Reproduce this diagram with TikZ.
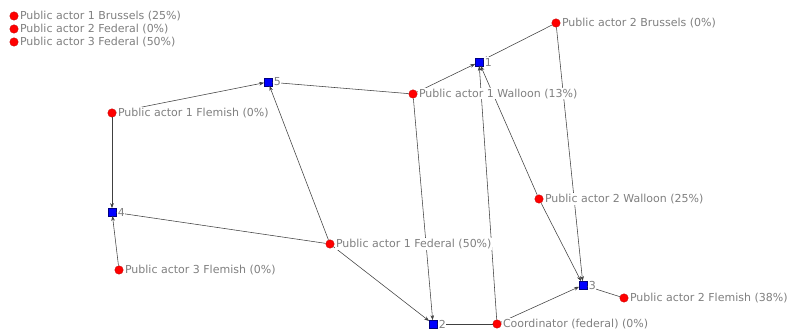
\documentclass[tikz,border=0pt]{standalone}
\usepackage{fontspec}
\setmainfont{DejaVu Sans}
\usetikzlibrary{positioning,arrows.meta}
\begin{document}
\begin{tikzpicture}[x=1pt,y=-1pt,
    actor/.style={circle,fill=red,draw=red!75!black,line width=0.3pt,inner sep=0pt,minimum size=8.5pt},
    event/.style={rectangle,fill=blue,draw=blue!50!black,line width=0.3pt,inner sep=0pt,minimum size=8pt},
    tag/.style={fill=white,inner sep=0.6pt,text=black!50,font=\fontsize{11}{13}\selectfont,anchor=west,xshift=0.8pt},
    tie/.style={draw=black!75,line width=0.55pt,-{Stealth[length=5pt,width=3.6pt]},shorten >=-0.3pt}]
    \useasboundingbox [fill=white] (0,0) rectangle (790,336);
    % actors and events
    \node [actor] (a1bru) at (14,16) {};
    \node [actor] (a2fed) at (14,29) {};
    \node [actor] (a3fed) at (14,42) {};
    \node [actor] (a2bru) at (556,23) {};
    \node [actor] (a1wal) at (413,94) {};
    \node [actor] (a1fle) at (112,113) {};
    \node [actor] (a3fle) at (119,270) {};
    \node [actor] (a1fed) at (330,244) {};
    \node [actor] (a2wal) at (539,199) {};
    \node [actor] (a2fle) at (624,298) {};
    \node [actor] (coord) at (497,324) {};
    \node [event] (e1) at (479,62) {};
    \node [event] (e2) at (433,324) {};
    \node [event] (e3) at (583,285) {};
    \node [event] (e4) at (112,212) {};
    \node [event] (e5) at (268,82) {};
    % ties
    \foreach \a/\b in {a2bru/e1, a1wal/e1, coord/e1, a2wal/e1,
        a2bru/e3, a2wal/e3, coord/e3, a2fle/e3,
        a1wal/e2, a1fed/e2, coord/e2,
        a1wal/e5, a1fle/e5, a1fed/e5,
        a1fle/e4, a3fle/e4, a1fed/e4}
        \draw [tie] (\a) -- (\b);
    % labels
    \node [tag] at (a1bru.east) {Public actor 1 Brussels (25\%)};
    \node [tag] at (a2fed.east) {Public actor 2 Federal (0\%)};
    \node [tag] at (a3fed.east) {Public actor 3 Federal (50\%)};
    \node [tag] at (a2bru.east) {Public actor 2 Brussels (0\%)};
    \node [tag] at (a1wal.east) {Public actor 1 Walloon (13\%)};
    \node [tag] at (a1fle.east) {Public actor 1 Flemish (0\%)};
    \node [tag] at (a3fle.east) {Public actor 3 Flemish (0\%)};
    \node [tag] at (a1fed.east) {Public actor 1 Federal (50\%)};
    \node [tag] at (a2wal.east) {Public actor 2 Walloon (25\%)};
    \node [tag] at (a2fle.east) {Public actor 2 Flemish (38\%)};
    \node [tag] at (coord.east) {Coordinator (federal) (0\%)};
    \node [tag] at (e1.east) {1};
    \node [tag] at (e2.east) {2};
    \node [tag] at (e3.east) {3};
    \node [tag] at (e4.east) {4};
    \node [tag] at (e5.east) {5};
\end{tikzpicture}
\end{document}
